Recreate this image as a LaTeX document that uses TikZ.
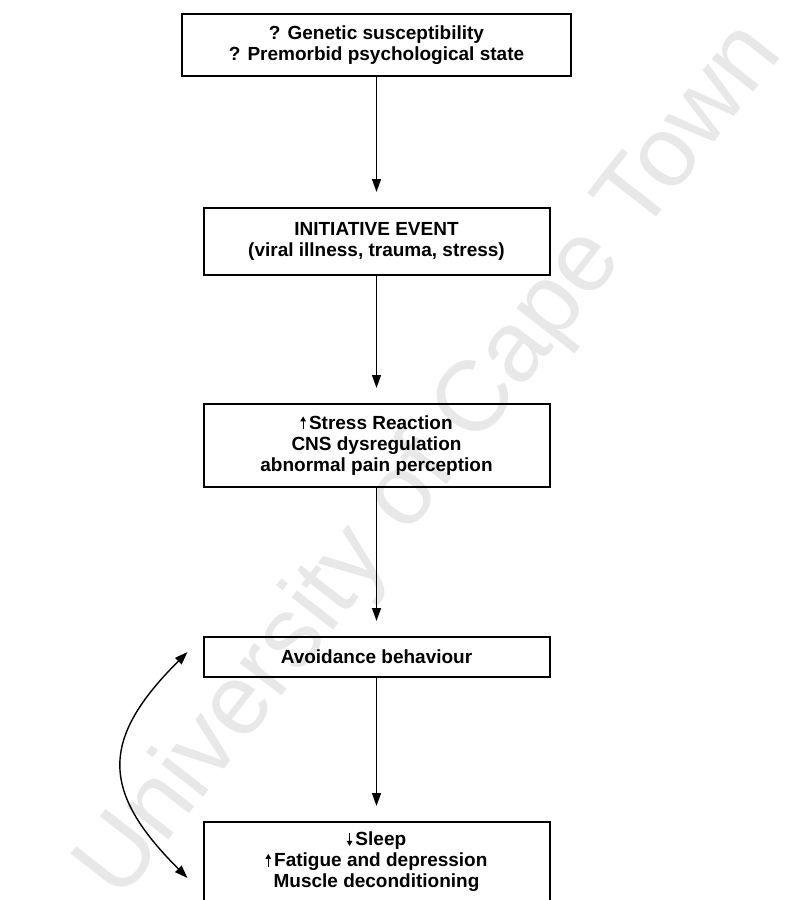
\documentclass[tikz,border=0pt]{standalone}
\usepackage{fontspec}
\setmainfont{Liberation Sans}
\usetikzlibrary{positioning,arrows.meta,calc}
\tikzset{
    on grid,
    auto,
    block/.style = {
        draw,
        shape=rectangle,
        minimum width=346pt,
        align=center,
        font=\bfseries\fontsize{19}{21}\selectfont,
        line width=2pt
    },
    link/.style = {
        draw,
        ->,
        line width=1.4pt,
        shorten >=15pt
    },
    tick/.style = {
        line width=1.1pt,
        -{Triangle[length=5pt,width=5.5pt]}
    },
    >={Triangle[length=13pt,width=9pt]},
}
\newcommand{\upmark}{\tikz[baseline=0pt]\draw[tick] (0pt,0pt) -- (0pt,13pt);\,}
\newcommand{\downmark}{\tikz[baseline=0pt]\draw[tick] (0pt,13pt) -- (0pt,0pt);\,}

\begin{document}
\begin{tikzpicture}[x=1pt, y=1pt]
    \useasboundingbox (0,0) rectangle (785,-900);
    \clip (0,0) rectangle (785,-900);
    % watermark
    \node[text=black!9, font=\fontsize{100}{100}\selectfont, rotate=52] (mark) at (432,-462) {University of Cape Town};

    \node[block, minimum width=389pt, minimum height=62pt] (gene) at (376.5,-45) {? Genetic susceptibility\\? Premorbid psychological state};
    \node[block, minimum height=67pt, below=196.5pt of gene] (event) {INITIATIVE EVENT\\(viral illness, trauma, stress)};
    \node[block, minimum height=83pt, below=204pt of event] (stress) {\upmark Stress Reaction\\CNS dysregulation\\abnormal pain perception};
    \node[block, minimum height=40pt, below=211.5pt of stress] (avoid) {Avoidance behaviour};
    \node[block, minimum height=80pt, below=205pt of avoid] (sleep) {\downmark Sleep\\\upmark Fatigue and depression\\Muscle deconditioning};

    \coordinate (loopa) at ($(avoid.west)+(-15pt,5pt)$);
    \coordinate (loopb) at ($(sleep.west)+(-15pt,-16pt)$);

    \path[link] (gene) -- (event);
    \path[link] (event) -- (stress);
    \path[link] (stress) -- (avoid);
    \path[link] (avoid) -- (sleep);
    \draw[<->, line width=1.4pt] (loopa) to[bend right=45, looseness=1.4] (loopb);
\end{tikzpicture}
\end{document}
